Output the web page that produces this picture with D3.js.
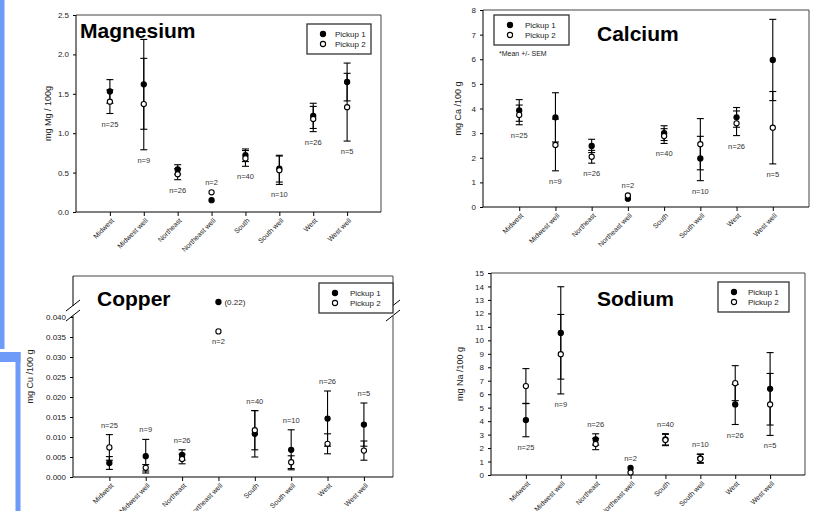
<!DOCTYPE html>
<html>
<head>
<meta charset="utf-8">
<script src="https://cdn.jsdelivr.net/npm/d3@7"></script>
<style>
  body { margin: 0; background: #fff; }
  svg { display: block; font-family: "Liberation Sans", Arial, sans-serif; }
  .tick text { font-size: 8px; fill: #222; }
  .nlab { font-size: 7.5px; fill: #333; }
  .leg { font-size: 8px; fill: #222; }
</style>
</head>
<body>
<script>
var svgWidth = 815;
var svgHeight = 511;

// categories and sample sizes
var regions = ["Midwest", "Midwest well", "Northeast", "Northeast well", "South", "South well", "West", "West well"];
var nCounts = [25, 9, 26, 2, 40, 10, 26, 5];

// Magnesium (mg / 100 g), mean and SEM
var mgP1 = [1.53, 1.62, 0.54, 0.15, 0.72, 0.55, 1.22, 1.65];
var mgP1Sem = [0.15, 0.57, 0.06, 0, 0.08, 0.17, 0.16, 0.24];
var mgP2 = [1.40, 1.37, 0.48, 0.25, 0.68, 0.53, 1.18, 1.33];
var mgP2Sem = [0.15, 0.58, 0.07, 0, 0.10, 0.18, 0.16, 0.43];
var mgTicks = [0, 0.5, 1.0, 1.5, 2.0, 2.5];
var mgLabelSide = ["below", "below", "below", "above", "below", "below", "below", "below"];

// Calcium
var caP1 = [3.92, 3.64, 2.48, 0.34, 3.00, 1.97, 3.64, 5.97];
var caP1Sem = [0.44, 1.00, 0.27, 0, 0.30, 0.90, 0.40, 1.65];
var caP2 = [3.74, 2.52, 2.04, 0.47, 2.88, 2.55, 3.40, 3.22];
var caP2Sem = [0.40, 1.05, 0.26, 0, 0.30, 1.04, 0.50, 1.47];
var caTicks = [0, 1, 2, 3, 4, 5, 6, 7, 8];
var caLabelSide = ["below", "below", "below", "above", "below", "below", "below", "below"];

// Copper
var cuP1 = [0.0035, 0.0052, 0.0055, 0.22, 0.0108, 0.0068, 0.0146, 0.0131];
var cuP1Sem = [0.0016, 0.0042, 0.0013, 0, 0.0058, 0.0050, 0.0069, 0.0054];
var cuP2 = [0.0074, 0.0023, 0.0045, 0.0364, 0.0117, 0.0037, 0.0083, 0.0066];
var cuP2Sem = [0.0032, 0.0008, 0.0012, 0, 0.0049, 0.0016, 0.0025, 0.0024];
var cuTicks = [0, 0.005, 0.010, 0.015, 0.020, 0.025, 0.030, 0.035, 0.040];
var cuLabelSide = ["above", "above", "above", "below", "above", "above", "above", "above"];

// Sodium
var naP1 = [4.08, 10.55, 2.64, 0.52, 2.65, 1.24, 5.24, 6.40];
var naP1Sem = [1.24, 3.43, 0.42, 0, 0.42, 0.32, 1.49, 2.69];
var naP2 = [6.60, 8.97, 2.30, 0.19, 2.60, 1.20, 6.82, 5.24];
var naP2Sem = [1.30, 2.95, 0.42, 0, 0.42, 0.33, 1.30, 2.30];
var naTicks = [0, 1, 2, 3, 4, 5, 6, 7, 8, 9, 10, 11, 12, 13, 14, 15];
var naLabelSide = ["below", "below", "above", "above", "above", "above", "below", "below"];

var seriesNames = ["Pickup 1", "Pickup 2"];

///////////////////////////////////////////////////////////////////////

var svg = d3.select("body")
  .append("svg")
  .attr("width", svgWidth)
  .attr("height", svgHeight);

// blue slide decoration on the left edge
var blue = "#6f9bf8";
svg.append("rect").attr("x", 0).attr("y", 0).attr("width", 4.5).attr("height", 349).attr("fill", blue);
svg.append("rect").attr("x", 0).attr("y", 352).attr("width", 20.5).attr("height", 10).attr("fill", blue);
svg.append("rect").attr("x", 15.5).attr("y", 352).attr("width", 5).attr("height", 159).attr("fill", blue);

function drawPanel(cfg) {
  var w = cfg.right - cfg.left;
  var h = cfg.bottom - cfg.top;
  var g = svg.append("g").attr("transform", `translate(${cfg.left}, ${cfg.top})`);

  var xScale = d3.scaleLinear()
    .domain([-1, cfg.xMax])
    .range([0, w]);

  var yScale = d3.scaleLinear()
    .domain(cfg.yDomain)
    .range(cfg.yRange ? cfg.yRange(h) : [h, 0]);

  // frame (top + right)
  g.append("path")
    .attr("d", `M0,0H${w}V${h}`)
    .attr("fill", "none")
    .attr("stroke", "#444")
    .attr("stroke-width", 1);

  var yAxis = d3.axisLeft(yScale)
    .tickValues(cfg.ticks)
    .tickFormat(cfg.fmt)
    .tickSize(3)
    .tickPadding(4);
  var yG = g.append("g").call(yAxis);
  yG.select(".domain").attr("d", `M0,0V${h}`);

  var xAxis = d3.axisBottom(xScale)
    .tickValues(d3.range(regions.length))
    .tickFormat(i => regions[i])
    .tickSize(4);
  var xG = g.append("g").attr("transform", `translate(0, ${h})`).call(xAxis);
  xG.select(".domain").attr("d", `M0,0H${w}`);
  xG.selectAll("text")
    .style("font-size", "7px")
    .attr("text-anchor", "end")
    .attr("dy", 0)
    .attr("y", 0)
    .attr("transform", "translate(4, 9) rotate(-45)");

  // axis break for Copper
  if (cfg.breakAt) {
    var b0 = cfg.breakAt[0], b1 = cfg.breakAt[1];
    [0, w].forEach(function(bx) {
      g.append("rect").attr("x", bx - 2).attr("y", b0).attr("width", 4).attr("height", b1 - b0).attr("fill", "#fff");
      g.append("line").attr("x1", bx - 7).attr("y1", b0 + 5).attr("x2", bx + 7).attr("y2", b0 - 6)
        .attr("stroke", "#000").attr("stroke-width", 1);
      g.append("line").attr("x1", bx - 7).attr("y1", b1 + 5).attr("x2", bx + 7).attr("y2", b1 - 6)
        .attr("stroke", "#000").attr("stroke-width", 1);
    });
  }

  // y title
  g.append("text")
    .attr("transform", `translate(${cfg.yTitleX}, ${h / 2}) rotate(-90)`)
    .attr("text-anchor", "middle")
    .style("font-size", "9px")
    .attr("fill", "#222")
    .text(cfg.yTitle);

  // chart title
  g.append("text")
    .attr("x", cfg.titleX)
    .attr("y", cfg.titleY)
    .style("font-size", "21px")
    .style("font-weight", "bold")
    .text(cfg.title);

  var series = [
    { mean: cfg.p1, sem: cfg.p1Sem, fill: "#000" },
    { mean: cfg.p2, sem: cfg.p2Sem, fill: "#fff" }
  ];

  // error bars
  series.forEach(function(s) {
    var eb = g.selectAll(null)
      .data(s.mean.map((m, i) => ({ i: i, m: m, e: s.sem[i] })).filter(d => d.e > 0))
      .enter()
      .append("g")
      .attr("stroke", "#000")
      .attr("stroke-width", 1.1);
    eb.append("line")
      .attr("x1", d => xScale(d.i)).attr("x2", d => xScale(d.i))
      .attr("y1", d => yScale(d.m + d.e)).attr("y2", d => yScale(d.m - d.e));
    eb.append("line")
      .attr("x1", d => xScale(d.i) - 3.5).attr("x2", d => xScale(d.i) + 3.5)
      .attr("y1", d => yScale(d.m + d.e)).attr("y2", d => yScale(d.m + d.e));
    eb.append("line")
      .attr("x1", d => xScale(d.i) - 3.5).attr("x2", d => xScale(d.i) + 3.5)
      .attr("y1", d => yScale(d.m - d.e)).attr("y2", d => yScale(d.m - d.e));
  });

  // markers
  series.forEach(function(s) {
    g.selectAll(null)
      .data(s.mean)
      .enter()
      .append("circle")
      .attr("cx", (d, i) => xScale(i))
      .attr("cy", d => yScale(d))
      .attr("r", 2.6)
      .attr("fill", s.fill)
      .attr("stroke", "#000")
      .attr("stroke-width", 1.1);
  });

  // value note for off-scale point
  if (cfg.note) {
    g.append("text")
      .attr("class", "leg")
      .attr("x", xScale(cfg.note) + 6)
      .attr("y", yScale(cfg.p1[cfg.note]) + 3)
      .text(`(${cfg.p1[cfg.note]})`);
  }

  // n labels
  g.selectAll(".nlab")
    .data(nCounts)
    .enter()
    .append("text")
    .attr("class", "nlab")
    .attr("text-anchor", "middle")
    .attr("x", (d, i) => xScale(i))
    .attr("y", function(d, i) {
      var hi = Math.max(cfg.p1[i] + cfg.p1Sem[i], cfg.p2[i] + cfg.p2Sem[i]);
      var lo = Math.min(cfg.p1[i] - cfg.p1Sem[i], cfg.p2[i] - cfg.p2Sem[i]);
      if (i === cfg.note) hi = lo = cfg.p2[i];
      return cfg.labelSide[i] === "above" ? yScale(hi) - 7 : yScale(lo) + 13;
    })
    .text(d => `n=${d}`);

  // legend
  var lg = g.append("g").attr("transform", `translate(${cfg.legX}, ${cfg.legY})`);
  lg.append("rect")
    .attr("width", cfg.legW).attr("height", 30)
    .attr("fill", "#fff").attr("stroke", "#333").attr("stroke-width", 1.3);
  seriesNames.forEach(function(name, k) {
    lg.append("circle")
      .attr("cx", 16).attr("cy", 10 + k * 10).attr("r", 2.6)
      .attr("fill", series[k].fill).attr("stroke", "#000").attr("stroke-width", 1.1);
    lg.append("text")
      .attr("class", "leg")
      .attr("x", cfg.legTextX).attr("y", 13 + k * 10)
      .text(name);
  });
  if (cfg.legNote) {
    lg.append("text")
      .attr("x", 5).attr("y", 41)
      .style("font-size", "7px")
      .attr("fill", "#222")
      .text(cfg.legNote);
  }
}

drawPanel({
  left: 76, top: 15, right: 381, bottom: 212, xMax: 8,
  yDomain: [0, 2.5], ticks: mgTicks, fmt: d3.format(".1f"),
  yTitle: "mg Mg / 100g", yTitleX: -25,
  title: "Magnesium", titleX: 4, titleY: 23,
  p1: mgP1, p1Sem: mgP1Sem, p2: mgP2, p2Sem: mgP2Sem, labelSide: mgLabelSide,
  legX: 231, legY: 9, legW: 64, legTextX: 28
});

drawPanel({
  left: 483, top: 10, right: 809, bottom: 207, xMax: 8,
  yDomain: [0, 8], ticks: caTicks, fmt: d3.format("d"),
  yTitle: "mg Ca /100 g", yTitleX: -22,
  title: "Calcium", titleX: 114, titleY: 31,
  p1: caP1, p1Sem: caP1Sem, p2: caP2, p2Sem: caP2Sem, labelSide: caLabelSide,
  legX: 11, legY: 5, legW: 75, legTextX: 31, legNote: "*Mean +/- SEM"
});

drawPanel({
  left: 73, top: 276, right: 393, bottom: 477, xMax: 7.8,
  yDomain: [0, 0.0405, 0.22, 0.25],
  yRange: function(h) { return [h, h - 0.0405 * 4000, 26, 0]; },
  breakAt: [30, 40],
  ticks: cuTicks, fmt: d3.format(".3f"),
  yTitle: "mg Cu /100 g", yTitleX: -40,
  title: "Copper", titleX: 24, titleY: 30,
  p1: cuP1, p1Sem: cuP1Sem, p2: cuP2, p2Sem: cuP2Sem, labelSide: cuLabelSide,
  note: 3,
  legX: 246, legY: 7, legW: 74, legTextX: 31
});

drawPanel({
  left: 491, top: 273, right: 805, bottom: 475, xMax: 8,
  yDomain: [0, 15], ticks: naTicks, fmt: d3.format("d"),
  yTitle: "mg Na /100 g", yTitleX: -28,
  title: "Sodium", titleX: 106, titleY: 33,
  p1: naP1, p1Sem: naP1Sem, p2: naP2, p2Sem: naP2Sem, labelSide: naLabelSide,
  legX: 227, legY: 9, legW: 71, legTextX: 30
});
</script>
</body>
</html>
